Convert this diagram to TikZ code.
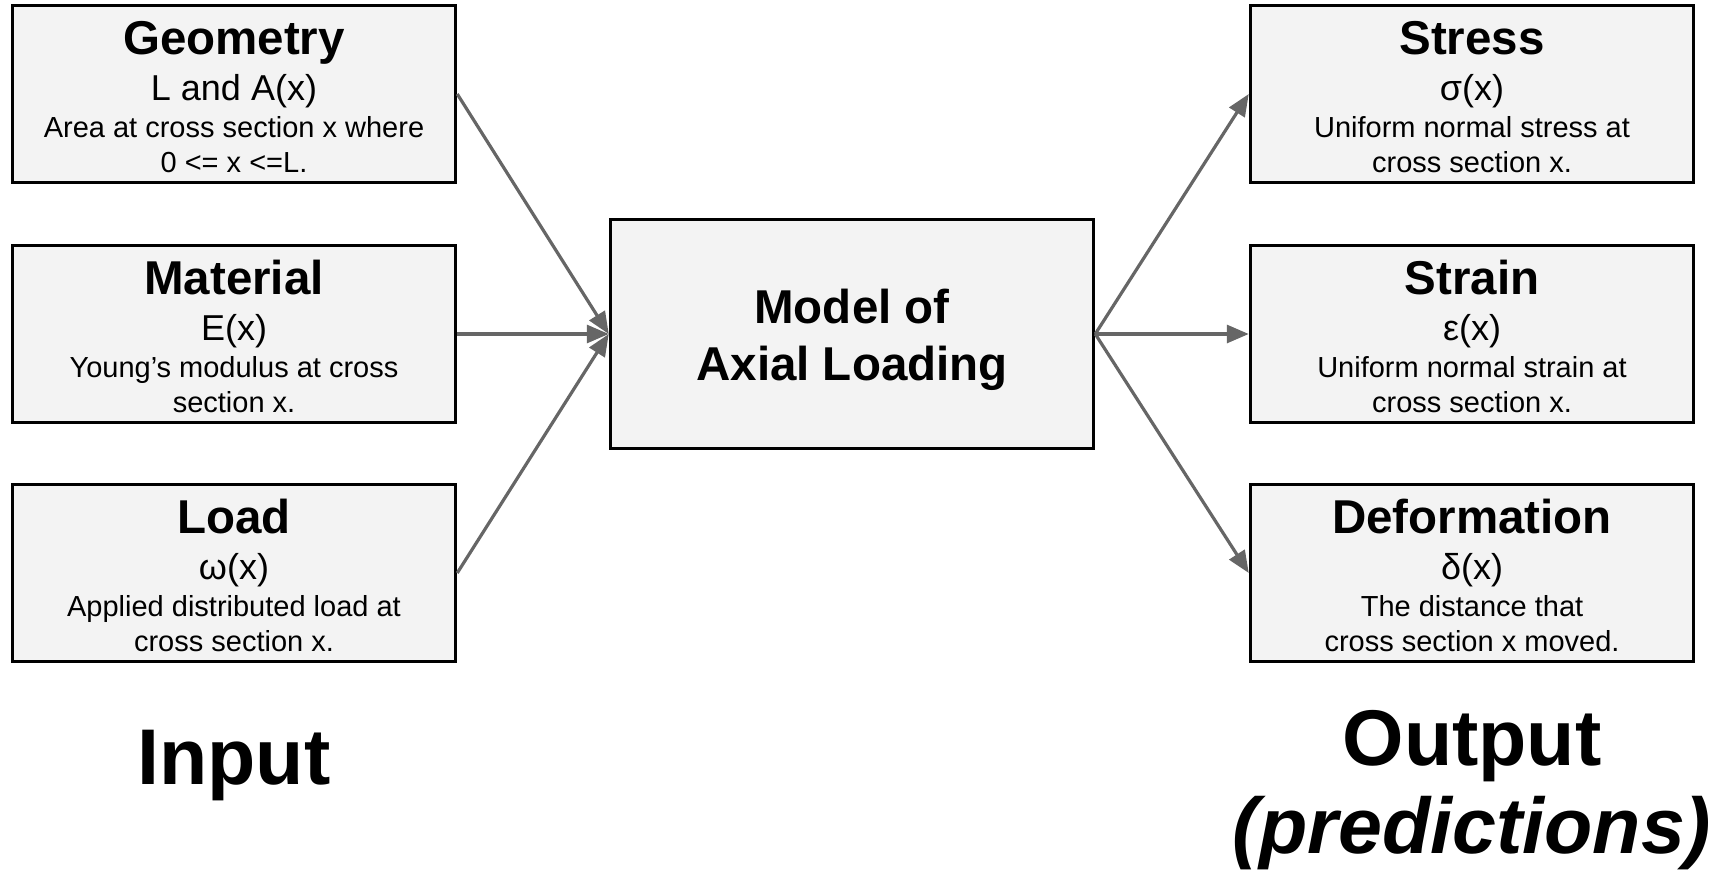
\documentclass[tikz,border=0pt]{standalone}
\usepackage{fontspec}
\setmainfont{Liberation Sans}
\usetikzlibrary{arrows.meta}
\definecolor{boxfill}{HTML}{F3F3F3}
\definecolor{arrowgray}{HTML}{666666}

\begin{document}
\begin{tikzpicture}[x=1pt,y=-1pt,
  sidebox/.style={draw=black, line width=3.5pt, fill=boxfill, rectangle, inner sep=0pt,
    minimum width=443pt, minimum height=177pt},
  modelbox/.style={draw=black, line width=3.5pt, fill=boxfill, rectangle, inner sep=0pt,
    minimum width=483pt, minimum height=229pt},
  ttl/.style={anchor=base, inner sep=0pt, font={\fontsize{47.5}{57}\selectfont\bfseries}},
  sub/.style={anchor=base, inner sep=0pt, font={\fontsize{36}{43}\selectfont}},
  desc/.style={anchor=base, inner sep=0pt, font={\fontsize{29}{35}\selectfont}},
  big/.style={anchor=base, inner sep=0pt, font={\fontsize{79}{95}\selectfont\bfseries}},
  link/.style={draw=arrowgray, line width=3.2pt, -{Triangle[length=22pt,width=18pt]}},
]
\useasboundingbox (0,0) rectangle (1721,872);

% input boxes
\node[sidebox] (geo) at (234,94) {};
\node[ttl]  (geo1) at ([yshift=-51pt]geo.north) {Geometry};
\node[sub]  (geo2) at ([yshift=-97pt]geo.north) {L and A(x)};
\node[desc] (geo3) at ([yshift=-134pt]geo.north) {Area at cross section x where};
\node[desc] (geo4) at ([yshift=-169pt]geo.north) {0 <= x <=L.};

\node[sidebox] (mat) at (234,334) {};
\node[ttl]  (mat1) at ([yshift=-51pt]mat.north) {Material};
\node[sub]  (mat2) at ([yshift=-97pt]mat.north) {E(x)};
\node[desc] (mat3) at ([yshift=-134pt]mat.north) {Young’s modulus at cross};
\node[desc] (mat4) at ([yshift=-169pt]mat.north) {section x.};

\node[sidebox] (load) at (234,573) {};
\node[ttl]  (load1) at ([yshift=-51pt]load.north) {Load};
\node[sub]  (load2) at ([yshift=-97pt]load.north) {ω(x)};
\node[desc] (load3) at ([yshift=-134pt]load.north) {Applied distributed load at};
\node[desc] (load4) at ([yshift=-169pt]load.north) {cross section x.};

% model
\node[modelbox] (model) at (852,334) {};
\node[ttl] (model1) at ([yshift=-106pt]model.north) {Model of};
\node[ttl] (model2) at ([yshift=-163pt]model.north) {Axial Loading};

% output boxes
\node[sidebox] (stress) at (1472,94) {};
\node[ttl]  (stress1) at ([yshift=-51pt]stress.north) {Stress};
\node[sub]  (stress2) at ([yshift=-97pt]stress.north) {σ(x)};
\node[desc] (stress3) at ([yshift=-134pt]stress.north) {Uniform normal stress at};
\node[desc] (stress4) at ([yshift=-169pt]stress.north) {cross section x.};

\node[sidebox] (strain) at (1472,334) {};
\node[ttl]  (strain1) at ([yshift=-51pt]strain.north) {Strain};
\node[sub]  (strain2) at ([yshift=-97pt]strain.north) {ε(x)};
\node[desc] (strain3) at ([yshift=-134pt]strain.north) {Uniform normal strain at};
\node[desc] (strain4) at ([yshift=-169pt]strain.north) {cross section x.};

\node[sidebox] (defo) at (1472,573) {};
\node[ttl]  (defo1) at ([yshift=-51pt]defo.north) {Deformation};
\node[sub]  (defo2) at ([yshift=-97pt]defo.north) {δ(x)};
\node[desc] (defo3) at ([yshift=-134pt]defo.north) {The distance that};
\node[desc] (defo4) at ([yshift=-169pt]defo.north) {cross section x moved.};

% connectors
\draw[link] (geo.east)  -- (model.west);
\draw[link] (mat.east)  -- (model.west);
\draw[link] (load.east) -- (model.west);
\draw[link] (model.east) -- (stress.west);
\draw[link] (model.east) -- (strain.west);
\draw[link] (model.east) -- (defo.west);

% captions
\node[big] (inlabel) at (234,784) {Input};
\node[big] (outlabel) at (1472,765) {Output};
\node[big, font={\fontsize{79}{95}\selectfont\bfseries\itshape}] (predlabel) at (1472,853) {(predictions)};
\end{tikzpicture}
\end{document}
